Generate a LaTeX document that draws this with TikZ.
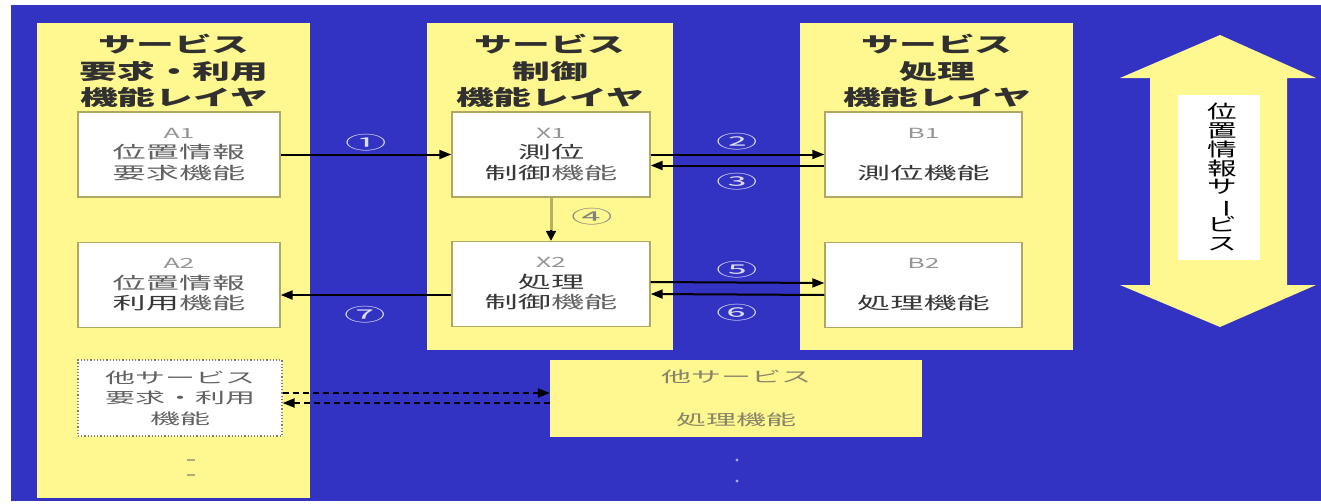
\documentclass[tikz,border=0pt]{standalone}
\usepackage{fontspec}
\setmainfont{Noto Sans CJK JP}
\usetikzlibrary{arrows.meta,calc}
\definecolor{bg}{HTML}{3232C3}
\definecolor{ylw}{HTML}{FFF78F}
\definecolor{boxedge}{HTML}{B0A862}
\definecolor{hdrtxt}{HTML}{303030}
\definecolor{darktxt}{HTML}{383838}
\definecolor{lighttxt}{HTML}{626262}
\definecolor{idtxt}{HTML}{959595}
\definecolor{circ}{HTML}{DCDCF6}
\definecolor{ostxt}{HTML}{86846A}
\definecolor{stemcol}{HTML}{B8B060}
\newcommand{\hx}[2]{\scalebox{#1}[1]{#2}}
\newcommand{\bt}[1]{\hx{1.95}{#1}}
\newcommand{\idl}[1]{\hx{1.9}{\fontsize{14}{14}\selectfont\color{idtxt}#1}}
\newcommand{\vbar}{\smash{\rotatebox[origin=c]{-90}{ー}}}
\begin{document}
\begin{tikzpicture}[x=1pt,y=-1pt,
  column/.style={fill=ylw,draw=none},
  hdr/.style={align=center,inner sep=0pt,text=hdrtxt,font=\fontsize{21}{26.5}\selectfont\bfseries},
  fbox/.style={draw=boxedge,line width=1.4pt,fill=white,minimum width=#1,minimum height=85pt,
     align=center,inner sep=0pt,text=lighttxt,font=\fontsize{17}{20.5}\selectfont},
  fbox/.default=200pt,
  arr/.style={line width=2pt,-{Triangle[length=12pt,width=9pt]}},
  darr/.style={arr,dashed,dash pattern=on 6pt off 4pt},
  cnum/.style={inner sep=0pt,text=circ,font=\fontsize{18}{18}\selectfont},
]
\useasboundingbox (0,0) rectangle (1321,503);
% background
\fill[white] (0,0) rectangle (1321,503);
\fill[bg] (11,5) rectangle (1321,501);
% layer columns
\fill[column] (37,23) rectangle (310,498);
\fill[column] (427,23) rectangle (673,350);
\fill[column] (800,23) rectangle (1073,350);

% headers
\node[hdr] (hA) at (174,71) {\hx{1.8}{サービス}\\\hx{1.8}{要求・利用}\\\hx{1.8}{機能レイヤ}};
\node[hdr] (hX) at (550,71) {\hx{1.8}{サービス}\\\hx{1.8}{制御}\\\hx{1.8}{機能レイヤ}};
\node[hdr] (hB) at (937,71) {\hx{1.8}{サービス}\\\hx{1.8}{処理}\\\hx{1.8}{機能レイヤ}};

% function boxes
\node[fbox=202pt] (A1) at (179,154.5) {\idl{A1}\\\bt{位置情報}\\\bt{要求機能}};
\node[fbox=202pt] (A2) at (179,285) {\idl{A2}\\\bt{位置情報}\\\bt{{\color{darktxt}利用}機能}};
\node[fbox=198pt] (X1) at (551,154.5) {\idl{X1}\\\bt{\color{darktxt}測位}\\\bt{{\color{darktxt}制御}機能}};
\node[fbox=198pt] (X2) at (551,284) {\idl{X2}\\\bt{\color{darktxt}処理}\\\bt{{\color{darktxt}制御}機能}};
\node[fbox=197pt] (B1) at (923.5,154.5) {\idl{B1}\\[20.5pt]\bt{\color{darktxt}測位機能}};
\node[fbox=197pt] (B2) at (923.5,285) {\idl{B2}\\[20.5pt]\bt{\color{darktxt}処理機能}};
% other service request/use function (dotted)
\node[draw=gray,dotted,line width=1.2pt,fill=white,minimum width=204pt,minimum height=76pt,
  align=center,inner sep=0pt,text=lighttxt,font=\fontsize{15}{20.5}\selectfont] (AO) at (180,398)
  {\hx{2}{他サービス}\\\hx{2}{要求・利用}\\\hx{2}{機能}};
% other service processing function
\node[fill=ylw,minimum width=372pt,minimum height=77pt,align=center,inner sep=0pt,
  text=ostxt,font=\fontsize{15}{21.5}\selectfont] (BO) at (736,398.5)
  {\hx{2}{他サービス}\\[21.5pt]\hx{2}{処理機能}};

% continuation marks
\draw[lighttxt!50!ylw,line width=1.2pt] (187,460) -- (195,460) (187,475) -- (195,475);
\fill[circ!70!bg] (737,460) circle (1.6pt) (737,481) circle (1.6pt);

% connectors
\draw[arr] (A1.east) -- (X1.west);
\draw[arr] (X1.east) -- (B1.west);
\draw[arr] ($(B1.west)+(0,11)$) -- ($(X1.east)+(0,11)$);
\draw[stemcol,line width=3pt] (X1.south) -- ($(X2.north)+(0,-10)$);
\draw[arr,-{Triangle[length=10pt,width=10pt]}] ($(X2.north)+(0,-11)$) -- (X2.north);
\draw[arr] ($(X2.east)+(0,-2)$) -- ($(B2.west)+(0,-2)$);
\draw[arr] ($(B2.west)+(0,10)$) -- ($(X2.east)+(0,10)$);
\draw[arr] ($(X2.west)+(0,11)$) -- ($(A2.east)+(0,10)$);
\draw[darr] ($(AO.east)+(0,-5)$) -- ($(BO.west)+(0,-5.5)$);
\draw[darr] ($(BO.west)+(0,4.5)$) -- ($(AO.east)+(0,5)$);

% connector labels
\node[cnum] (n1) at (366,143) {\hx{2.3}{①}};
\node[cnum] (n2) at (737,142) {\hx{2.3}{②}};
\node[cnum] (n3) at (737,182) {\hx{2.3}{③}};
\node[cnum,text=gray] (n4) at (592,217) {\hx{2.3}{④}};
\node[cnum] (n5) at (737,270) {\hx{2.3}{⑤}};
\node[cnum] (n6) at (737,313) {\hx{2.3}{⑥}};
\node[cnum] (n7) at (365,315) {\hx{2.3}{⑦}};

% location information service double arrow
\fill[ylw] (1220,35) -- (1316,78) -- (1287,78) -- (1287,285) -- (1316,285) -- (1220,327)
  -- (1120,285) -- (1150,285) -- (1150,78) -- (1120,78) -- cycle;
\node[fill=white,minimum width=82pt,minimum height=165pt,inner sep=0pt] (svcbox) at (1219,177.5) {};
\node[align=center,inner sep=0pt,text=black,font=\fontsize{18.5}{18.9}\selectfont] (svc) at (1222,177)
  {\hx{1.6}{位}\\\hx{1.6}{置}\\\hx{1.6}{情}\\\hx{1.6}{報}\\\hx{1.6}{サ}\\\hx{1.6}{\vbar}\\\hx{1.6}{ビ}\\\hx{1.6}{ス}};
\end{tikzpicture}
\end{document}
